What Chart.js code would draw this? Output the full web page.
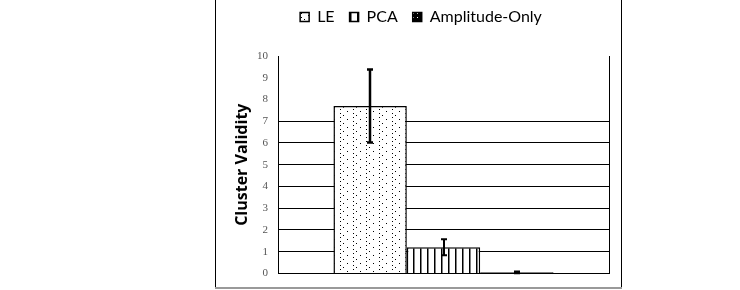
<!DOCTYPE html>
<html>
<head>
<meta charset="utf-8">
<script src="https://cdn.jsdelivr.net/npm/chart.js@4"></script>
<style>
  html, body { margin: 0; padding: 0; background: #fff; }
  #wrap { width: 740px; height: 290px; position: relative; }
</style>
</head>
<body>
<div id="wrap"><canvas id="chart" width="740" height="290"></canvas></div>
<script>
// Values
const categories = [''];
const seriesNames = ['LE', 'PCA', 'Amplitude-Only'];
const leValues = [7.7];
const pcaValues = [1.2];
const ampValues = [0.05];
const leErrors = [1.68];
const pcaErrors = [0.37];
const ampErrors = [0.04];
const yTicks = [0, 1, 2, 3, 4, 5, 6, 7, 8, 9, 10];

// Fill patterns like the old office chart
function makePattern(w, h, draw) {
    const c = document.createElement('canvas');
    c.width = w;
    c.height = h;
    const g = c.getContext('2d');
    draw(g);
    return g.createPattern(c, 'repeat');
}

const dotted = makePattern(13, 8, (g) => {
    g.fillStyle = '#fff';
    g.fillRect(0, 0, 13, 8);
    g.fillStyle = '#000';
    g.fillRect(2, 1, 1, 1);
    g.fillRect(5, 3, 1, 1);
    g.fillRect(2, 5, 1, 1);
    g.fillRect(9, 7, 1, 1);
});

const striped = makePattern(7, 4, (g) => {
    g.fillStyle = '#fff';
    g.fillRect(0, 0, 7, 4);
    g.fillStyle = '#000';
    g.fillRect(0, 0, 1.5, 4);
});

const darkDots = makePattern(4, 4, (g) => {
    g.fillStyle = '#000';
    g.fillRect(0, 0, 4, 4);
    g.fillStyle = '#fff';
    g.fillRect(1, 1, 1, 1);
});

const errors = [leErrors, pcaErrors, ampErrors];
const errorWidths = [2.5, 2, 2];

// Draw error bars from the dataset values
const errorBars = {
    id: 'errorBars',
    afterDatasetsDraw(chart) {
        const ctx = chart.ctx;
        const y = chart.scales.y;
        chart.data.datasets.forEach((ds, i) => {
            const meta = chart.getDatasetMeta(i);
            meta.data.forEach((bar, j) => {
                const v = ds.data[j];
                const e = errors[i][j];
                const top = y.getPixelForValue(v + e);
                const bottom = y.getPixelForValue(v - e);
                const x = Math.round(bar.x);
                ctx.save();
                ctx.strokeStyle = '#000';
                ctx.lineWidth = errorWidths[i];
                ctx.beginPath();
                ctx.moveTo(x, top);
                ctx.lineTo(x, bottom);
                ctx.moveTo(x - 3, top);
                ctx.lineTo(x + 3, top);
                ctx.moveTo(x - 3, bottom);
                ctx.lineTo(x + 3, bottom);
                ctx.stroke();
                ctx.restore();
            });
        });
    },
};

// Outer frame and right edge of the plot
const frame = {
    id: 'frame',
    afterDraw(chart) {
        const ctx = chart.ctx;
        const area = chart.chartArea;
        ctx.save();
        ctx.strokeStyle = '#000';
        ctx.lineWidth = 1;
        ctx.beginPath();
        ctx.moveTo(Math.round(area.right) + 0.5, chart.scales.y.getPixelForValue(10));
        ctx.lineTo(Math.round(area.right) + 0.5, area.bottom);
        ctx.stroke();
        ctx.beginPath();
        ctx.moveTo(215.5, -2);
        ctx.lineTo(215.5, 287);
        ctx.moveTo(621.5, -2);
        ctx.lineTo(621.5, 287);
        ctx.stroke();
        ctx.strokeStyle = '#999';
        ctx.lineWidth = 2;
        ctx.beginPath();
        ctx.moveTo(215, 288);
        ctx.lineTo(622, 288);
        ctx.stroke();
        ctx.restore();
    },
};

// Extra room under the legend
const legendGap = {
    id: 'legendGap',
    beforeInit(chart) {
        const fit = chart.legend.fit;
        chart.legend.fit = function () {
            fit.call(this);
            this.height += 21;
        };
    },
};

const datasets = [
    { label: seriesNames[0], data: leValues, backgroundColor: dotted },
    { label: seriesNames[1], data: pcaValues, backgroundColor: striped },
    { label: seriesNames[2], data: ampValues, backgroundColor: darkDots },
].map((d) => ({
    ...d,
    borderColor: '#000',
    borderWidth: 1.5,
    categoryPercentage: 0.665,
    barPercentage: 1,
}));

new Chart(document.getElementById('chart'), {
    type: 'bar',
    data: { labels: categories, datasets },
    options: {
        responsive: false,
        animation: false,
        layout: { padding: { left: 233, right: 131, top: -6, bottom: 8 } },
        plugins: {
            tooltip: { enabled: false },
            legend: {
                position: 'top',
                labels: {
                    color: '#000',
                    font: { family: 'Lato', size: 16 },
                    boxWidth: 9,
                    boxHeight: 9,
                    padding: 15,
                },
            },
        },
        scales: {
            x: {
                ticks: { display: false },
                grid: { display: false, drawTicks: false },
                border: { display: true, color: '#000', width: 1 },
            },
            y: {
                min: 0,
                max: 10,
                afterBuildTicks: (axis) => {
                    axis.ticks = yTicks.map((v) => ({ value: v }));
                },
                afterFit: (axis) => {
                    axis.width = 45;
                },
                ticks: {
                    color: '#555',
                    font: { family: 'Liberation Serif', size: 11 },
                    padding: 10,
                },
                grid: {
                    drawTicks: false,
                    color: (c) => (c.tick && c.tick.value >= 1 && c.tick.value <= 7 ? '#000' : 'rgba(0,0,0,0)'),
                    lineWidth: 1,
                },
                border: { display: true, color: '#000', width: 1 },
                title: {
                    display: true,
                    text: 'Cluster Validity',
                    color: '#000',
                    font: { family: 'Open Sans', size: 16, weight: 'bold' },
                    padding: { top: 0, bottom: 4 },
                },
            },
        },
    },
    plugins: [errorBars, frame, legendGap],
});
</script>
</body>
</html>
